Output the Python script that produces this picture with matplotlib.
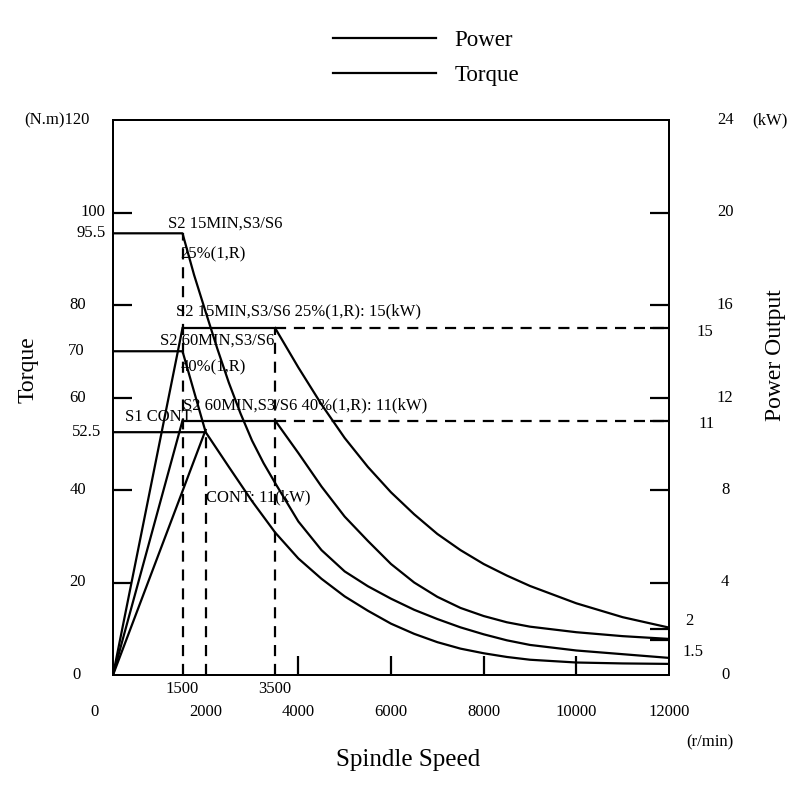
import matplotlib
matplotlib.use("Agg")
import matplotlib.pyplot as plt
from matplotlib.lines import Line2D

plt.rcParams['font.family'] = ['Liberation Serif', 'DejaVu Serif']

# corner speeds (r/min)
base_speed = 1500
cont_speed = 2000
const_power_end = 3500
max_speed = 12000

# torque levels (N.m) and power levels (kW)
torque_s2_15 = 95.5
torque_s2_60 = 70
torque_s1 = 52.5
power_s2_15 = 15
power_s2_60 = 11
power_s1_knee = 10.6

# S2 15MIN torque curve
t15_speed = [0, 1500, 1750, 2000, 2250, 2500, 2750, 3000, 3250, 3500, 4000, 4500,
             5000, 5500, 6000, 6500, 7000, 7500, 8000, 8500, 9000, 10000, 11000, 12000]
t15_torque = [95.5, 95.5, 86.5, 78.5, 70.6, 63.2, 56.6, 50.7, 45.8, 41.5, 33.2, 27.0,
              22.4, 19.2, 16.5, 14.1, 12.1, 10.3, 8.8, 7.5, 6.5, 5.3, 4.5, 3.7]

# S2 60MIN torque: flat 70 then falls onto the S1 curve at 2000
t60_speed = [0, 1500, 2000]
t60_torque = [70, 70, 52.5]

# S1 CONT torque curve
t1_speed = [0, 2000, 2500, 3000, 3500, 4000, 4500, 5000, 5500, 6000, 6500,
            7000, 7500, 8000, 8500, 9000, 10000, 11000, 12000]
t1_torque = [52.5, 52.5, 45.0, 37.6, 30.8, 25.2, 20.8, 17.0, 13.9, 11.1, 8.9,
             7.1, 5.7, 4.7, 3.9, 3.3, 2.7, 2.5, 2.4]

# power falling off after 3500 r/min (kW)
p_fall_speed = [3500, 4000, 4500, 5000, 5500, 6000, 6500, 7000, 7500, 8000,
                8500, 9000, 10000, 11000, 12000]
p15_fall = [15.0, 13.3, 11.7, 10.25, 9.0, 7.9, 6.95, 6.1, 5.4, 4.8,
            4.3, 3.85, 3.1, 2.5, 2.05]
p60_fall = [11.0, 9.6, 8.15, 6.85, 5.8, 4.8, 4.0, 3.38, 2.9, 2.55,
            2.28, 2.09, 1.85, 1.68, 1.56]

left_ticks = [20, 40, 60, 80, 100]
left_labels = ['(N.m)120', '100', '95.5', '80', '70', '60', '52.5', '40', '20', '0']
left_label_vals = [120, 100, 95.5, 80, 70, 60, 52.5, 40, 20, 0]
right_ticks = [1.5, 2, 4, 8, 11, 12, 15, 16, 20]
right_labels = ['24', '20', '16', '15', '12', '11', '8', '4', '2', '1.5', '0']
right_label_vals = [24, 20, 16, 15, 12, 11, 8, 4, 2, 1.5, 0]
x_ticks = [4000, 6000, 8000, 10000]
x_low_labels = [0, 2000, 4000, 6000, 8000, 10000, 12000]
x_high_labels = [1500, 3500]

LW = 1.6
DASH = (5, 3.5)

fig = plt.figure(figsize=(8, 8), dpi=100)
ax = fig.add_axes([113 / 800, 125 / 800, 556 / 800, 555 / 800])
ax2 = ax.twinx()

ax.set_xlim(0, max_speed)
ax.set_ylim(0, 120)
ax2.set_ylim(0, 24)
for a in (ax, ax2):
    for s in a.spines.values():
        s.set_linewidth(1.4)

# torque curves
ax.plot(t15_speed, t15_torque, color='black', lw=LW)
ax.plot(t60_speed, t60_torque, color='black', lw=LW)
ax.plot(t1_speed, t1_torque, color='black', lw=LW)

# power curves
ax2.plot([0, base_speed], [0, power_s2_15], color='black', lw=LW)
ax2.plot([0, base_speed], [0, power_s2_60], color='black', lw=LW)
ax2.plot([0, cont_speed], [0, power_s1_knee], color='black', lw=LW)
ax2.plot([base_speed, const_power_end], [power_s2_15, power_s2_15], color='black', lw=LW)
ax2.plot([base_speed, const_power_end], [power_s2_60, power_s2_60], color='black', lw=LW)
ax2.plot([const_power_end, max_speed], [power_s2_15, power_s2_15], color='black', lw=LW, dashes=DASH)
ax2.plot([const_power_end, max_speed], [power_s2_60, power_s2_60], color='black', lw=LW, dashes=DASH)
ax2.plot(p_fall_speed, p15_fall, color='black', lw=LW)
ax2.plot(p_fall_speed, p60_fall, color='black', lw=LW)

# dashed speed markers
ax.plot([base_speed, base_speed], [0, torque_s2_15], color='black', lw=LW, dashes=DASH)
ax.plot([cont_speed, cont_speed], [0, torque_s1], color='black', lw=LW, dashes=DASH)
ax2.plot([const_power_end, const_power_end], [0, power_s2_15], color='black', lw=LW, dashes=DASH)

# ticks pointing inward, labels drawn as text
ax.set_xticks(x_ticks)
ax.set_xticklabels([])
ax.set_yticks(left_ticks)
ax.set_yticklabels([])
ax2.set_yticks(right_ticks)
ax2.set_yticklabels([])
ax.tick_params(direction='in', length=14, width=1.6)
ax2.tick_params(direction='in', length=14, width=1.6)

fs = 12
ytr = ax.get_yaxis_transform()
left_x = {'(N.m)120': -0.1, '100': -0.036, '95.5': -0.040, '52.5': -0.047,
          '80': -0.063, '70': -0.066, '60': -0.063, '40': -0.063, '20': -0.063, '0': -0.065}
for lab, v in zip(left_labels, left_label_vals):
    ax.text(left_x[lab], v, lab, transform=ytr, ha='center', va='center', fontsize=fs)

ytr2 = ax2.get_yaxis_transform()
right_x = {'15': 1.065, '11': 1.068, '2': 1.037, '1.5': 1.043}
right_y = {'2': 2.35, '1.5': 1.0, '15': 14.85, '11': 10.85}
for lab, v in zip(right_labels, right_label_vals):
    ax2.text(right_x.get(lab, 1.101), right_y.get(lab, v), lab, transform=ytr2,
             ha='center', va='center', fontsize=fs)
ax2.text(1.182, 24, '(kW)', transform=ytr2, ha='center', va='center', fontsize=fs)

xtr = ax.get_xaxis_transform()
for v in x_low_labels:
    xpos = -390 if v == 0 else v
    ax.text(xpos, -0.067, str(v), transform=xtr, ha='center', va='center', fontsize=fs)
for v in x_high_labels:
    ax.text(v, -0.025, str(v), transform=xtr, ha='center', va='center', fontsize=fs)
ax.text(12880, -0.121, '(r/min)', transform=xtr, ha='center', va='center', fontsize=fs)
ax.text(6370, -0.153, 'Spindle Speed', transform=xtr, ha='center', va='center', fontsize=18)

fig.text(0.035, 0.5375, 'Torque', rotation=90, ha='center', va='center', fontsize=17)
fig.text(0.969, 0.556, 'Power Output', rotation=90, ha='center', va='center', fontsize=17)

# curve annotations
ann = dict(fontsize=fs, ha='left', va='center')
ax.text(1190, 97.5, 'S2 15MIN,S3/S6', **ann)
ax.text(1450, 91.0, '25%(1,R)', **ann)
ax.text(1360, 78.7, 'S2 15MIN,S3/S6 25%(1,R): 15(kW)', **ann)
ax.text(1010, 72.4, 'S2 60MIN,S3/S6', **ann)
ax.text(1450, 66.6, '40%(1,R)', **ann)
ax.text(1510, 58.4, 'S2 60MIN,S3/S6 40%(1,R): 11(kW)', **ann)
ax.text(260, 55.8, 'S1 CONT', **ann)
ax.text(2010, 38.3, 'CONT: 11(kW)', **ann)

handles = [Line2D([], [], color='black', lw=LW), Line2D([], [], color='black', lw=LW)]
fig.legend(handles, ['Power', 'Torque'], loc='upper left',
           bbox_to_anchor=(333 / 800, 1 - 30 / 800), frameon=False, fontsize=16.5,
           handlelength=4.5, handletextpad=0.8, labelspacing=0.62,
           borderpad=0, borderaxespad=0)

fig.savefig('out.png', dpi=100)
